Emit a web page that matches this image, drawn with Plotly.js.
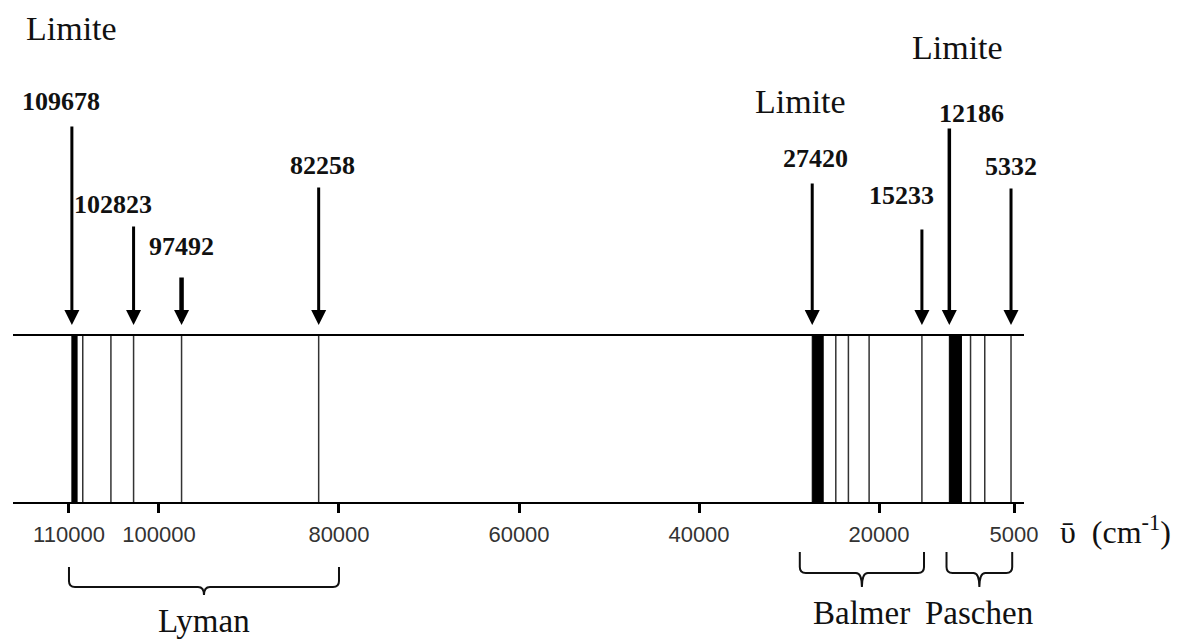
<!DOCTYPE html>
<html>
<head>
<meta charset="utf-8">
<script src="https://cdn.plot.ly/plotly-3.0.1.min.js"></script>
<style>html,body{margin:0;padding:0;background:#fff;}#chart{width:1203px;height:644px;}</style>
</head>
<body>
<div id="chart"></div>
<script>
// ---- data (wavenumbers, cm^-1) ----
const seriesNames   = ['Lyman', 'Balmer', 'Paschen'];
const seriesLimits  = [109678, 27420, 12186];
const lymanLines    = [108470, 105340, 102823, 97492, 82258];
const balmerLines   = [24800, 23400, 21100, 15233];
const paschenLines  = [9830, 8250, 5332];
const lymanBand     = [109678, 109100];
const balmerBand    = [27420, 26200];
const paschenBand   = [12186, 10840];
const labeledValues = [109678, 102823, 97492, 82258, 27420, 15233, 12186, 5332];
const tickValues    = [110000, 100000, 80000, 60000, 40000, 20000, 5000];
const seriesSpans   = [[110000, 80000], [28800, 15000], [12500, 5200]];
const limitLabel    = 'Limite';

// ---- layout helpers (pixels) ----
const W = 1203, H = 644;
const PL = 13, PR = 1024, PT = 336, PB = 502;
const XR = [116220, 3890];
const unitsPerPx = (XR[0] - XR[1]) / (PR - PL);
const py = px => (PB - px) / (PB - PT);          // pixel y -> paper y
const shiftX = (v, dpx) => v - dpx * unitsPerPx;  // move data x by pixels (reversed axis)

const serif = 'Liberation Serif, Times New Roman, DejaVu Serif, serif';

const traces = [];
function linesTrace(vals, width, color) {
  const x = [], y = [];
  vals.forEach(v => { x.push(v, v, null); y.push(0, 1, null); });
  return {type: 'scatter', mode: 'lines', x, y, line: {color, width}, hoverinfo: 'skip', showlegend: false};
}
function bandTrace(b) {
  return {type: 'scatter', mode: 'lines', x: [b[0], b[0], b[1], b[1], b[0]], y: [0, 1, 1, 0, 0],
          fill: 'toself', fillcolor: '#000', line: {color: '#000', width: 1}, hoverinfo: 'skip', showlegend: false};
}
traces.push(linesTrace(lymanLines, 1.5, '#333'));
traces.push(linesTrace(balmerLines, 1.5, '#333'));
traces.push(linesTrace(paschenLines, 1.5, '#333'));
traces.push(bandTrace(lymanBand));
traces.push(bandTrace(balmerBand));
traces.push(bandTrace(paschenBand));

// arrows + value labels (layout styling)
const arrowTailPx  = [125, 225, 276, 186, 182, 228, 127, 187];
const arrowWidths  = [3, 3, 4.5, 3, 3, 3, 3.5, 3];
const labelYPx     = [101, 204, 246, 165, 158, 195, 113, 166];
const labelShiftPx = [-11, -21, 0, 4, 3, -20, 22, 0];

const annotations = [];
labeledValues.forEach((v, i) => {
  annotations.push({
    x: v, xref: 'x', y: 1, yref: 'paper', text: '', showarrow: true,
    ax: 0, ay: arrowTailPx[i] - PT, standoff: 11,
    arrowhead: 2, arrowwidth: arrowWidths[i], arrowsize: 3 / arrowWidths[i], arrowcolor: '#000'
  });
  annotations.push({
    x: v, xref: 'x', y: py(labelYPx[i]), yref: 'paper', xshift: labelShiftPx[i],
    text: '<b>' + String(v) + '</b>', showarrow: false, xanchor: 'center', yanchor: 'middle',
    font: {family: serif, size: 26, color: '#111'}
  });
});

// "Limite" labels
const limiteYPx = [28, 102, 47];
const limiteShiftPx = [0, -12, 8];
seriesLimits.forEach((v, i) => {
  annotations.push({
    x: v, xref: 'x', y: py(limiteYPx[i]), yref: 'paper', xshift: limiteShiftPx[i],
    text: limitLabel, showarrow: false, xanchor: 'center', yanchor: 'middle',
    font: {family: serif, size: 34, color: '#111'}
  });
});

// braces + series names
const braceTipPx = [567, 552, 552];
const braceBarPx = [587, 573, 573];
const braceNubPx = [595, 587, 587];
const nameYPx    = [621, 613, 613];
const shapes = [];
seriesSpans.forEach((s, i) => {
  const a = s[0], b = s[1];
  const m = (a + b) / 2;
  const yt = py(braceTipPx[i]), yb = py(braceBarPx[i]), yn = py(braceNubPx[i]);
  const r = 6;
  const path = [
    'M', a, ',', yt,
    'L', a, ',', py(braceBarPx[i] - r),
    'Q', a, ',', yb, ' ', shiftX(a, r), ',', yb,
    'L', shiftX(m, -r), ',', yb,
    'Q', m, ',', yb, ' ', m, ',', yn,
    'Q', m, ',', yb, ' ', shiftX(m, r), ',', yb,
    'L', shiftX(b, -r), ',', yb,
    'Q', b, ',', yb, ' ', b, ',', py(braceBarPx[i] - r),
    'L', b, ',', yt
  ].join('');
  shapes.push({type: 'path', xref: 'x', yref: 'paper', path, line: {color: '#111', width: 2}, layer: 'above'});
  annotations.push({
    x: m, xref: 'x', y: py(nameYPx[i]), yref: 'paper', text: seriesNames[i], showarrow: false,
    xanchor: 'center', yanchor: 'middle', font: {family: serif, size: 33, color: '#111'}
  });
});

// axis title
annotations.push({
  x: (1058 - PL) / (PR - PL), xref: 'paper', y: py(530), yref: 'paper', xanchor: 'left', yanchor: 'middle',
  text: 'ῡ  (cm<sup>-1</sup>)', showarrow: false, font: {family: serif, size: 32, color: '#111'}
});

const layout = {
  width: W, height: H,
  margin: {l: PL, r: W - PR, t: PT, b: H - PB, pad: 0},
  paper_bgcolor: '#fff', plot_bgcolor: '#fff',
  showlegend: false, hovermode: false,
  xaxis: {
    range: XR, tickvals: tickValues, ticktext: tickValues.map(String),
    showline: true, linecolor: '#000', linewidth: 2, mirror: true,
    ticks: 'outside', ticklen: 9, tickwidth: 3, tickcolor: '#000',
    ticklabelstandoff: 3,
    showgrid: false, zeroline: false, fixedrange: true,
    tickfont: {family: 'Liberation Sans, Arial, sans-serif', size: 22, color: '#333'}
  },
  yaxis: {range: [0, 1], visible: false, fixedrange: true, showgrid: false, zeroline: false},
  annotations, shapes
};

Plotly.newPlot('chart', traces, layout, {displayModeBar: false, staticPlot: true});
</script>
</body>
</html>
